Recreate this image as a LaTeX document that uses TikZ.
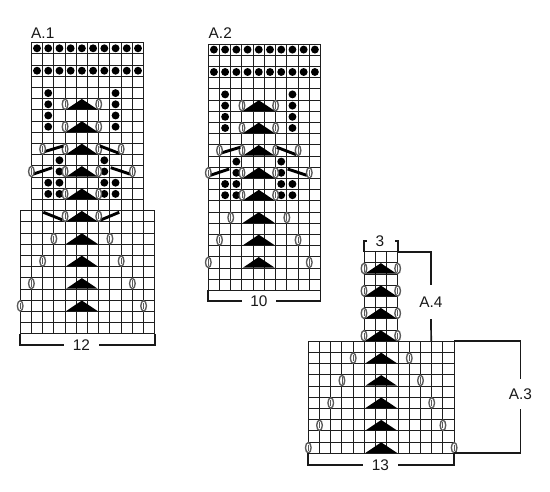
\documentclass[tikz,border=0pt]{standalone}
\usepackage{fontspec}
\setmainfont{Liberation Sans}
\definecolor{gridc}{HTML}{1E1E1E}
\definecolor{ovalc}{HTML}{5A5A5A}
\tikzset{
  lab/.style={inner sep=0pt,font=\fontsize{15.4}{16}\selectfont,text=black!90},
  hgap/.style={lab,minimum width=#1,minimum height=10pt},
  vgap/.style={lab,minimum height=#1,minimum width=10pt},
  gridl/.style={draw=gridc,line width=0.95pt},
  brk/.style={draw=black!90,line width=1.7pt,line cap=butt,line join=miter},
  thk/.style={draw=black,line width=2.9pt},
  ov/.style={draw=ovalc,fill=white,line width=1.35pt},
}
\newcommand{\cellgrid}[4]{% x0 y0 cols rows in cells
  \pgfmathtruncatemacro{\xa}{#1+#3}\pgfmathtruncatemacro{\ya}{#2+#4}
  \foreach \xx in {#1,...,\xa} {\draw[gridl] (\xx,#2) -- (\xx,\ya);}
  \foreach \yy in {#2,...,\ya} {\draw[gridl] (#1,\yy) -- (\xa,\yy);}
}
\newcommand{\kdot}[2]{\fill[black] (#1+0.5,#2+0.5) circle[radius=3.95pt];}
\newcommand{\ovl}[2]{%
  \draw[ov] (#1,#2+0.5) ellipse[x radius=2.8pt,y radius=5.2pt];
  \draw[draw=ovalc,line width=0.9pt] (#1,#2+0.22) -- (#1,#2+0.78);}
\newcommand{\trg}[2]{\fill[black] (#1-1.4,#2+0.96) -- (#1,#2+0.02) -- (#1+1.4,#2+0.96) -- cycle;}
\newcommand{\upperpart}{%
  \foreach \c in {0,...,9} {\kdot{\c}{0}\kdot{\c}{2}}
  \foreach \r in {4,5,6,7} {\kdot{1}{\r}\kdot{7}{\r}}
  \foreach \r in {10,11,12,13} {\kdot{2}{\r}\kdot{6}{\r}}
  \foreach \r in {12,13} {\kdot{1}{\r}\kdot{7}{\r}}
  \foreach \r in {5,7,9,11,13} {\trg{4.5}{\r}\ovl{3}{\r}\ovl{6}{\r}}
  \draw[thk] (1.15,9.73) -- (2.84,9.22);
  \draw[thk] (6.11,9.22) -- (7.83,9.88);
  \draw[thk] (0.17,11.73) -- (1.86,11.16);
  \draw[thk] (7.07,11.16) -- (8.79,11.73);
  \ovl{1}{9}\ovl{8}{9}\ovl{0}{11}\ovl{9}{11}
}
\begin{document}
\begin{tikzpicture}[x=1pt,y=-1pt]
\useasboundingbox (0,0) rectangle (550,491);
\fill[white] (0,0) rectangle (550,491);

% A.1
\begin{scope}[shift={(31.4,42.7)},x=11.22pt,y=-11.2pt]
  \cellgrid{0}{0}{10}{15}
  \cellgrid{-1}{15}{12}{11}
  \upperpart
  \foreach \r in {15,17,19,21,23} {\trg{4.5}{\r}}
  \draw[thk] (1.06,15.14) -- (2.79,15.83);
  \draw[thk] (6.18,15.83) -- (7.83,15.14);
  \ovl{3}{15}\ovl{6}{15}
  \ovl{2}{17}\ovl{7}{17}
  \ovl{1}{19}\ovl{8}{19}
  \ovl{0}{21}\ovl{9}{21}
  \ovl{-1}{23}\ovl{10}{23}
\end{scope}
\node[lab,anchor=base west] (ta1) at (31,38) {A.1};
\coordinate (a1l) at (20,334);
\coordinate (a1r) at (154.7,334);
\node[hgap=34pt] (t12) at (81.5,345.2) {12};
\draw[brk] (a1l) |- (t12.west);
\draw[brk] (a1r) |- (t12.east);

% A.2
\begin{scope}[shift={(208.3,44)},x=11.22pt,y=-11.2pt]
  \cellgrid{0}{0}{10}{22}
  \upperpart
  \foreach \r in {15,17,19} {\trg{4.5}{\r}}
  \ovl{2}{15}\ovl{7}{15}
  \ovl{1}{17}\ovl{8}{17}
  \ovl{0}{19}\ovl{9}{19}
\end{scope}
\node[lab,anchor=base west] (ta2) at (208.5,38) {A.2};
\coordinate (a2l) at (208.3,290.4);
\coordinate (a2r) at (320.5,290.4);
\node[hgap=34pt] (t10) at (259,301) {10};
\draw[brk] (a2l) |- (t10.west);
\draw[brk] (a2r) |- (t10.east);

% A.4 and A.3
\begin{scope}[shift={(364,251.7)},x=11.22pt,y=-11.2pt]
  \cellgrid{0}{0}{3}{8}
  \foreach \r in {1,3,5,7} {\trg{1.5}{\r}\ovl{0}{\r}\ovl{3}{\r}}
\end{scope}
\begin{scope}[shift={(308.3,341.3)},x=11.22pt,y=-11.2pt]
  \cellgrid{0}{0}{13}{10}
  \foreach \r in {1,3,5,7,9} {\trg{6.5}{\r}}
  \ovl{4}{1}\ovl{9}{1}
  \ovl{3}{3}\ovl{10}{3}
  \ovl{2}{5}\ovl{11}{5}
  \ovl{1}{7}\ovl{12}{7}
  \ovl{0}{9}\ovl{13}{9}
\end{scope}
% bracket for 3
\coordinate (b3l) at (364,251.7);
\coordinate (b3r) at (397.7,251.7);
\node[lab] (t3) at (380,241) {3};
\draw[brk] (b3l) -- (364,240.7) -- (367,240.7);
\draw[brk] (b3r) -- (397.7,240.7) -- (394.7,240.7);
% A.4
\node[vgap=34pt] (t4) at (431,302) {A.4};
\coordinate (b4b) at (431.2,341.3);
\draw[brk] (b3r) -| (t4.north);
\draw[brk] (t4.south) -- (b4b);
% A.3
\coordinate (c3t) at (454.2,341.3);
\coordinate (c3b) at (454.2,453);
\node[vgap=30pt] (t5) at (520.5,394) {A.3};
\draw[brk] (c3t) -| (t5.north);
\draw[brk] (c3b) -| (t5.south);
% bracket 13
\coordinate (d3l) at (308.3,452.5);
\coordinate (d3r) at (454.2,452.5);
\node[hgap=34pt] (t13) at (380.5,465) {13};
\draw[brk] (d3l) |- (t13.west);
\draw[brk] (d3r) |- (t13.east);
\end{tikzpicture}
\end{document}
